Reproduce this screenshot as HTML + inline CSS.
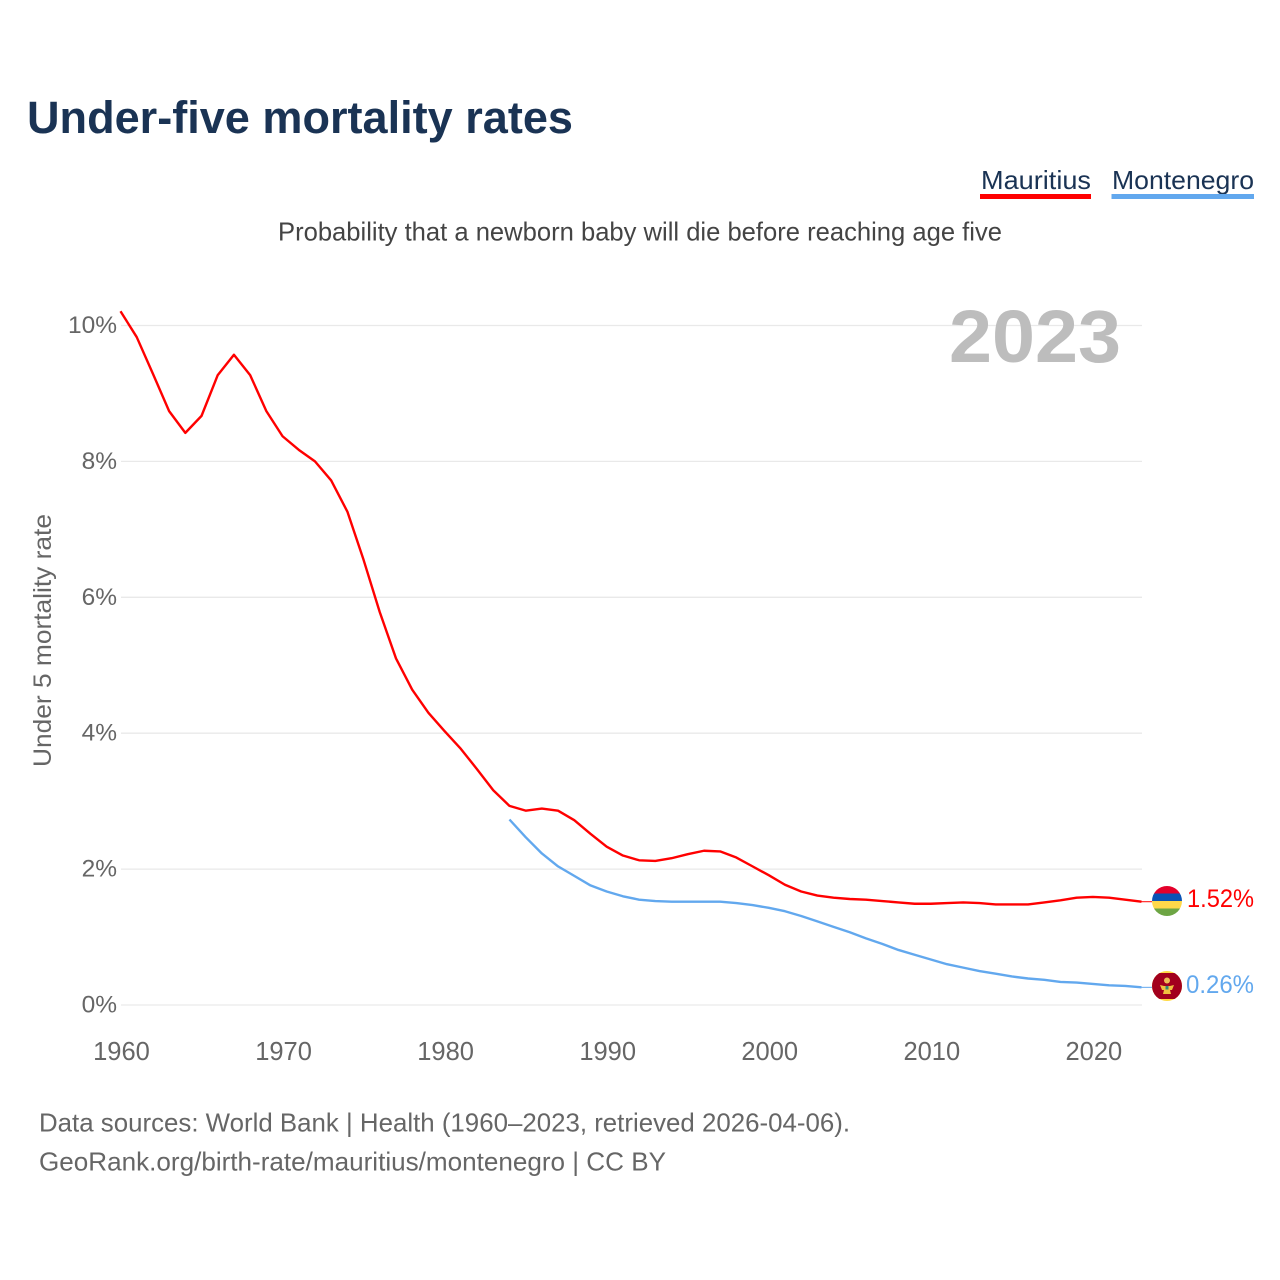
<!DOCTYPE html>
<html>
<head>
<meta charset="utf-8">
<title>Under-five mortality rates</title>
<style>
html,body{margin:0;padding:0;background:#fff;}
svg{display:block;font-family:"Liberation Sans",sans-serif;}
</style>
</head>
<body>
<svg id="chart" xmlns="http://www.w3.org/2000/svg" width="1280" height="1280" viewBox="0 0 1280 1280">
  <rect x="0" y="0" width="1280" height="1280" fill="#fff"/>
  <text x="27" y="133" font-size="45" font-weight="700" fill="#1a3354" textLength="546" lengthAdjust="spacingAndGlyphs">Under-five mortality rates</text>
  <g>
    <text x="981" y="189" font-size="26" fill="#1a3354" textLength="110" lengthAdjust="spacingAndGlyphs">Mauritius</text>
    <rect x="980" y="194" width="111" height="5" fill="#ff0000"/>
  </g>
  <g>
    <text x="1112" y="189" font-size="26" fill="#1a3354" textLength="142" lengthAdjust="spacingAndGlyphs">Montenegro</text>
    <rect x="1111.500" y="194" width="142.500" height="5" fill="#62a8ee"/>
  </g>
  <text x="278" y="240.500" font-size="26" fill="#444" textLength="724" lengthAdjust="spacingAndGlyphs">Probability that a newborn baby will die before reaching age five</text>
  <g id="grid"></g>
  <text x="949" y="362" font-size="74" font-weight="700" fill="#bdbdbd" textLength="172" lengthAdjust="spacingAndGlyphs">2023</text>
  <text transform="translate(51,767) rotate(-90)" x="0" y="0" font-size="25" fill="#666" textLength="253" lengthAdjust="spacingAndGlyphs">Under 5 mortality rate</text>
  <g id="yticks"></g>
  <g id="xticks"></g>
  <g id="series"></g>

  <defs>
    <clipPath id="clip-mu"><circle cx="1167" cy="901" r="15"/></clipPath>
    <clipPath id="clip-me"><circle cx="1167" cy="986" r="15"/></clipPath>
  </defs>
  <g clip-path="url(#clip-mu)">
    <rect x="1152" y="886" width="30" height="8" fill="#e4002b"/>
    <rect x="1152" y="893.500" width="30" height="7.500" fill="#0a52b4"/>
    <rect x="1152" y="901" width="30" height="7.500" fill="#ffd84a"/>
    <rect x="1152" y="908.500" width="30" height="7.500" fill="#6da544"/>
  </g>
  <g clip-path="url(#clip-me)">
    <rect x="1152" y="971" width="30" height="30" fill="#ffda44"/>
    <rect x="1152" y="973" width="30" height="26" fill="#a2001d"/>
    <circle cx="1167" cy="980.500" r="3" fill="#eebb55"/>
    <path d="M1160 985 L1164 986 L1170 986 L1174 985 L1172 990 L1170 990 L1171 994 L1163 994 L1164 990 L1162 990 Z" fill="#f0c040"/>
    <rect x="1165.500" y="986" width="3" height="3.500" fill="#338877"/>
  </g>
  <text x="1187" y="907" font-size="25" fill="#ff0000" textLength="67" lengthAdjust="spacingAndGlyphs">1.52%</text>
  <text x="1186" y="993" font-size="25" fill="#62a8ee" textLength="68" lengthAdjust="spacingAndGlyphs">0.26%</text>
  <text x="39" y="1131.500" font-size="26" fill="#666" textLength="811" lengthAdjust="spacingAndGlyphs">Data sources: World Bank | Health (1960–2023, retrieved 2026-04-06).</text>
  <text x="39" y="1170.500" font-size="26" fill="#666" textLength="627" lengthAdjust="spacingAndGlyphs">GeoRank.org/birth-rate/mauritius/montenegro | CC BY</text>
</svg>
<script>
const yTickValues = [0, 2, 4, 6, 8, 10];
const xTickYears = [1960, 1970, 1980, 1990, 2000, 2010, 2020];
const mauritiusStartYear = 1960;
const mauritiusValues = [10.21,9.83,9.29,8.74,8.42,8.67,9.27,9.57,9.27,8.74,8.37,8.17,8.00,7.72,7.26,6.55,5.78,5.10,4.64,4.30,4.03,3.77,3.47,3.16,2.93,2.86,2.89,2.86,2.72,2.52,2.33,2.20,2.13,2.12,2.16,2.22,2.27,2.26,2.17,2.04,1.91,1.77,1.67,1.61,1.58,1.56,1.55,1.53,1.51,1.49,1.49,1.50,1.51,1.50,1.48,1.48,1.48,1.51,1.54,1.58,1.59,1.58,1.55,1.52];
const montenegroStartYear = 1984;
const montenegroValues = [2.73,2.47,2.23,2.04,1.90,1.76,1.67,1.60,1.55,1.53,1.52,1.52,1.52,1.52,1.50,1.47,1.43,1.38,1.31,1.23,1.15,1.07,0.98,0.90,0.81,0.74,0.67,0.60,0.55,0.50,0.46,0.42,0.39,0.37,0.34,0.33,0.31,0.29,0.28,0.26];

const NS = 'http://www.w3.org/2000/svg';
function xScale(year){ return 120.500 + (year - 1960) * (1141.500 - 120.500) / 63; }
function yScale(value){ return 1005 - value * 67.95; }
function make(tag, attrs, parent){
  const el = document.createElementNS(NS, tag);
  for (const k in attrs) el.setAttribute(k, attrs[k]);
  parent.appendChild(el);
  return el;
}
const grid = document.getElementById('grid');
const yticks = document.getElementById('yticks');
const xticks = document.getElementById('xticks');
const series = document.getElementById('series');

yTickValues.forEach(function(v){
  const line = make('line', {x1:121, x2:1142, y1:yScale(v), y2:yScale(v), stroke:'#e9e9e9', 'stroke-width':1.3}, grid);
  
  
  const label = make('text', {x:117, y:yScale(v)+7.5, 'text-anchor':'end', 'font-size':24.5, fill:'#666'}, yticks);
  
  
  label.textContent = v + '%';
});
xTickYears.forEach(function(y){
  const label = make('text', {x:xScale(y)+1, y:1060, 'text-anchor':'middle', 'font-size':25.5, fill:'#666'}, xticks);
  
  
  label.textContent = y;
});
function linePath(values, startYear){
  return values.map(function(v, i){
    return (i ? 'L' : 'M') + xScale(startYear + i).toFixed(2) + ' ' + yScale(v).toFixed(2);
  }).join(' ');
}
const mLine = make('path', {d:linePath(mauritiusValues, mauritiusStartYear), fill:'none', stroke:'#ff0000', 'stroke-width':2.4, 'stroke-linejoin':'round'}, series);


const nLine = make('path', {d:linePath(montenegroValues, montenegroStartYear), fill:'none', stroke:'#62a8ee', 'stroke-width':2.4, 'stroke-linejoin':'round'}, series);


const lastYearM = mauritiusStartYear + mauritiusValues.length - 1;
const lastYearN = montenegroStartYear + montenegroValues.length - 1;
const mLead = make('line', {x1:xScale(lastYearM), x2:1152, y1:yScale(mauritiusValues[mauritiusValues.length-1]), y2:yScale(mauritiusValues[mauritiusValues.length-1]), stroke:'#ff0000', 'stroke-width':1}, series);


const nLead = make('line', {x1:xScale(lastYearN), x2:1152, y1:yScale(montenegroValues[montenegroValues.length-1]), y2:yScale(montenegroValues[montenegroValues.length-1]), stroke:'#62a8ee', 'stroke-width':1}, series);


</script>
</body>
</html>
